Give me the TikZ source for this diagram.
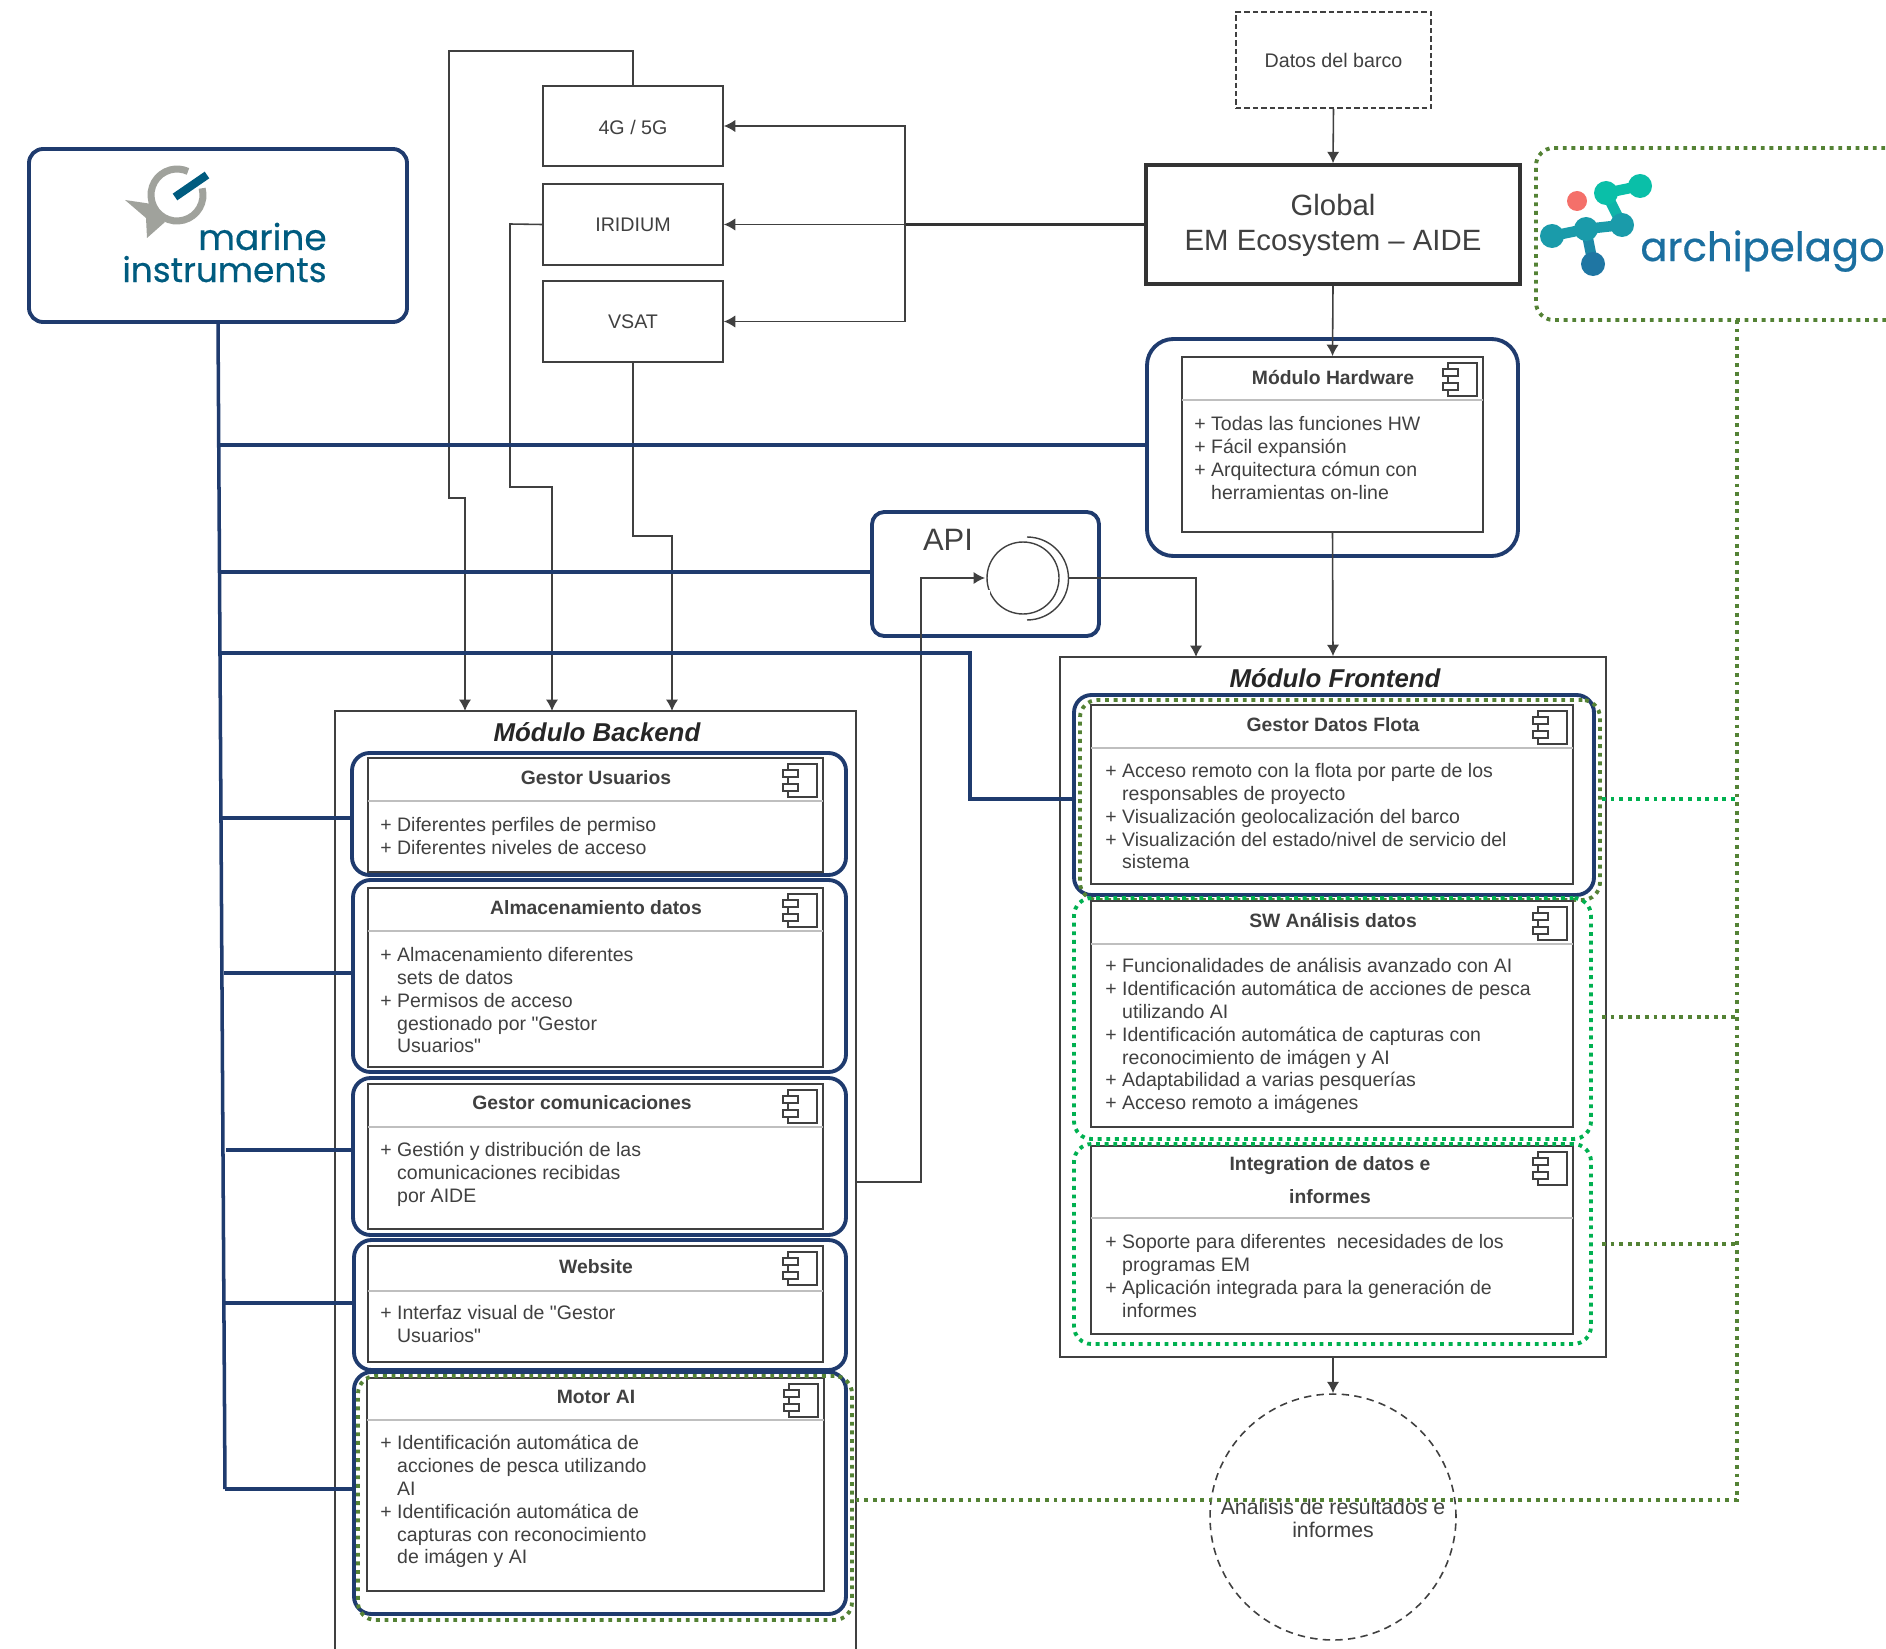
\documentclass[tikz,border=0pt]{standalone}
\usepackage{fontspec}
\setmainfont[Ligatures=TeXOff]{Liberation Sans}
\newfontfamily\logofont[FakeBold=0.5]{Poppins}
\usetikzlibrary{arrows.meta}
\usetikzlibrary{fit}
\definecolor{navy}{HTML}{1F3B6E}
\definecolor{inkgray}{HTML}{404040}
\definecolor{leaf}{HTML}{548235}
\definecolor{mint}{HTML}{00B050}
\definecolor{marineteal}{HTML}{005B7F}
\definecolor{marinegray}{HTML}{A0A29C}
\definecolor{archblue}{HTML}{1B6FA0}
\definecolor{archtop}{HTML}{0ABFA8}
\definecolor{archmid}{HTML}{1A9BAA}
\definecolor{archlow}{HTML}{1F76A3}
\definecolor{archred}{HTML}{F4706A}
\tikzset{
    plainbox/.style={draw=inkgray, line width=0.95pt, inner sep=0pt},
    navybox/.style={draw=navy, line width=2.2pt, rounded corners=10pt, inner sep=0pt},
    leafbox/.style={draw=leaf, line width=2.2pt, rounded corners=10pt, inner sep=0pt, dash pattern=on 2.2pt off 2.7pt},
    mintbox/.style={draw=mint, line width=2.2pt, rounded corners=10pt, inner sep=0pt, dash pattern=on 2.2pt off 2.7pt},
    link/.style={draw=black!75, line width=0.9pt, -{Latex[length=6.5pt,width=7pt]}},
    navyline/.style={draw=navy, line width=2pt},
    leafline/.style={draw=leaf, line width=2.2pt, dash pattern=on 2.2pt off 2.7pt},
    mintline/.style={draw=mint, line width=2.2pt, dash pattern=on 2.2pt off 2.7pt},
    small/.style={font=\fontsize{11.2}{13}\selectfont, text=inkgray},
    heading/.style={font=\fontsize{11}{13}\selectfont\bfseries, text=inkgray},
    bodytext/.style={font=\fontsize{11.1}{13}\selectfont, text=inkgray, align=left, anchor=north west, inner sep=0pt},
    moduletitle/.style={font=\fontsize{14.7}{17}\selectfont\bfseries\itshape, text=black!85}
}
% component box: name, x1, y1, x2, y2, y of header rule
\newcommand{\compbox}[6]{%
    \node[plainbox, fit={(#2,#3) (#4,#5)}] (#1) {};
    \draw[gray!50, line width=1.1pt] (#2,#6) -- (#4,#6);
    \draw[inkgray, line width=0.7pt] (#4-35,#3+6) rectangle (#4-6,#3+39);
    \filldraw[draw=inkgray, fill=white, line width=0.7pt] (#4-40,#3+12) rectangle (#4-25,#3+19);
    \filldraw[draw=inkgray, fill=white, line width=0.7pt] (#4-40,#3+26) rectangle (#4-25,#3+33);
}
\newcommand{\more}{\phantom{+ }}

\begin{document}
\begin{tikzpicture}[x=0.02cm,y=-0.02cm]
    \useasboundingbox (0,0) rectangle (1886,1649);
    \clip (0,0) rectangle (1886,1649);

    %upper boxes
    \node[draw=inkgray, dash pattern=on 3.1pt off 1.7pt, line width=0.9pt, inner sep=0pt, fit={(1236,12) (1431,108)}] (datos) {};
    \node[small] at (datos.center) {Datos del barco};
    \node[draw=black!80, line width=2pt, inner sep=0pt, fit={(1146,165) (1520,284)}] (global) {};
    \node[font=\fontsize{16.7}{19.5}\selectfont, text=inkgray, align=center] at (1333,225.5) {Global\\EM Ecosystem – AIDE};
    \node[plainbox, fit={(543,86) (723,166)}] (cuatrog) {};
    \node[small] at (633,127) {4G / 5G};
    \node[plainbox, fit={(543,184) (723,265)}] (iridium) {};
    \node[small] at (633,225) {IRIDIUM};
    \node[plainbox, fit={(543,281) (723,362)}] (vsat) {};
    \node[small] at (633,322) {VSAT};

    %modules
    \node[plainbox, fit={(335,711) (856,1700)}] (backend) {};
    \node[moduletitle] at (597,732) {Módulo Backend};
    \node[plainbox, fit={(1060,657) (1606,1357)}] (frontend) {};
    \node[moduletitle] at (1335,678) {Módulo Frontend};

    %hardware
    \compbox{hardware}{1182}{357}{1483}{532}{400}
    \node[heading] at (1333,378) {Módulo Hardware};
    \node[bodytext] at (1194,416) {+ Todas las funciones HW\\+ Fácil expansión\\+ Arquitectura cómun con\\\more herramientas on-line};
    \node[navybox, rounded corners=15pt, fit={(1147,339) (1518,556)}] (hardwarenavy) {};

    %backend components
    \compbox{usuarios}{368}{758}{823}{872}{801}
    \node[heading] at (596,778) {Gestor Usuarios};
    \node[bodytext] at (380,817) {+ Diferentes perfiles de permiso\\+ Diferentes niveles de acceso};
    \node[navybox, fit={(352,753) (846,875)}] (usuariosnavy) {};

    \compbox{almacen}{368}{888}{823}{1067}{931}
    \node[heading] at (596,908) {Almacenamiento datos};
    \node[bodytext] at (380,947) {+ Almacenamiento diferentes\\\more sets de datos\\+ Permisos de acceso\\\more gestionado por "Gestor\\\more Usuarios"};
    \node[navybox, fit={(353,880) (846,1072)}] (almacennavy) {};

    \compbox{comunic}{368}{1084}{823}{1229}{1127}
    \node[heading] at (582,1103) {Gestor comunicaciones};
    \node[bodytext] at (380,1142) {+ Gestión y distribución de las\\\more comunicaciones recibidas\\\more por AIDE};
    \node[navybox, fit={(353,1078) (846,1235)}] (comunicnavy) {};

    \compbox{website}{368}{1246}{823}{1362}{1291}
    \node[heading] at (596,1267) {Website};
    \node[bodytext] at (380,1305) {+ Interfaz visual de "Gestor\\\more Usuarios"};
    \node[navybox, fit={(354,1240) (846,1370)}] (websitenavy) {};

    \compbox{motor}{367}{1378}{824}{1591}{1420}
    \node[heading] at (596,1397) {Motor AI};
    \node[bodytext] at (380,1435) {+ Identificación automática de\\\more acciones de pesca utilizando\\\more AI\\+ Identificación automática de\\\more capturas con reconocimiento\\\more de imágen y AI};
    \node[navybox, fit={(354,1372) (846,1614)}] (motornavy) {};
    \node[leafbox, fit={(358,1376) (852,1620)}] (motorleaf) {};

    %frontend components
    \compbox{flota}{1091}{705}{1573}{884}{748}
    \node[heading] at (1333,725) {Gestor Datos Flota};
    \node[bodytext] at (1105,763) {+ Acceso remoto con la flota por parte de los\\\more responsables de proyecto\\+ Visualización geolocalización del barco\\+ Visualización del estado/nivel de servicio del\\\more sistema};
    \node[navybox, fit={(1074,695) (1594,895)}] (flotanavy) {};
    \node[leafbox, fit={(1080,700) (1600,900)}] (flotaleaf) {};

    \compbox{analisis}{1091}{901}{1573}{1127}{944}
    \node[heading] at (1333,920) {SW Análisis datos};
    \node[bodytext] at (1105,958) {+ Funcionalidades de análisis avanzado con AI\\+ Identificación automática de acciones de pesca\\\more utilizando AI\\+ Identificación automática de capturas con\\\more reconocimiento de imágen y AI\\+ Adaptabilidad a varias pesquerías\\+ Acceso remoto a imágenes};
    \node[mintbox, fit={(1074,898) (1591,1139)}] (analisismint) {};

    \compbox{integra}{1091}{1146}{1573}{1334}{1218}
    \node[heading, align=center, font=\fontsize{11}{19}\selectfont\bfseries] at (1330,1180) {Integration de datos e\\informes};
    \node[bodytext] at (1105,1234) {+ Soporte para diferentes\ \ necesidades de los\\\more programas EM\\+ Aplicación integrada para la generación de\\\more informes};
    \node[mintbox, fit={(1074,1144) (1591,1344)}] (integramint) {};

    %results
    \node[draw=inkgray, dash pattern=on 4.2pt off 3pt, circle, line width=0.9pt, minimum size=4.92cm, inner sep=0pt] (resultados) at (1333,1517) {};
    \node[small, align=center, font=\fontsize{12.1}{13}\selectfont] at (1333,1518) {Análisis de resultados e\\informes};

    %api
    \node[navybox, rounded corners=7pt, fit={(872,512) (1099,636)}] (api) {};
    \node[font=\fontsize{17.6}{20}\selectfont, text=inkgray] at (948,540) {API};
    \node[draw=inkgray, circle, line width=0.8pt, minimum size=1.44cm, inner sep=0pt] (apicircle) at (1023,578) {};
    \fill[white] (983,552) rectangle (990,561);
    \fill[white] (983,590) rectangle (990,597);
    \draw[inkgray, line width=0.8pt] (1027,537) arc[start angle=90,end angle=-90,radius=0.83cm];
    \coordinate (apiout) at (1068,578);
    \coordinate (apiin) at (985,578);

    %thin links
    \draw[link] (datos.south) -- (global.north);
    \draw[link] (global.south) -- (hardware.north);
    \draw[link] (hardware.south) -- (frontend.north);
    \draw[link] (frontend.south) -- (resultados.north);
    \draw[link] (global.west |- iridium.east) -- (iridium.east);
    \draw[black!80, line width=1.5pt] (global.west |- iridium.east) -- (905,224.5);
    \draw[link] (905,224) |- (cuatrog.east);
    \draw[link] (905,224) |- (vsat.east);
    \draw[link] (cuatrog.north) -- (633,51) -- (449,51) -- (449,498) -- (465,498) -- (465,711);
    \draw[link] (iridium.west) -- (510,224) -- (510,487) -- (552,487) -- (552,711);
    \draw[link] (vsat.south) -- (633,536) -- (672,536) -- (672,711);
    \draw[link] (856,1182) -- (921,1182) -- (921,578) -- (apiin);
    \draw[link] (apiout) -- (1196,578) -- (1196,657);

    %marine lines
    \coordinate (trunkend) at (225,1489);
    \draw[navyline] (218,322) -- (trunkend);
    \draw[navyline] (219,445) -- (hardwarenavy.west |- 219,445);
    \draw[navyline] (220,572) -- (api.west |- 220,572);
    \draw[navyline] (221,653) -- (970,653) -- (970,799) -- (flotanavy.west |- 970,799);
    \draw[navyline] (219,818) -- (usuariosnavy.west |- 219,818);
    \draw[navyline] (224,973) -- (almacennavy.west |- 224,973);
    \draw[navyline] (226,1150) -- (comunicnavy.west |- 226,1150);
    \draw[navyline] (225,1303) -- (websitenavy.west |- 225,1303);
    \draw[navyline] (trunkend) -- (motornavy.west |- trunkend);

    %archipelago lines
    \node[leafbox, fit={(1536,148) (1920,320)}] (archbox) {};
    \draw[leafline] (1737,320) -- (1737,1500) -- (motorleaf.east |- 1737,1500);
    \draw[mintline] (flotaleaf.east |- 1600,799) -- (1737,799);
    \draw[leafline] (flotaleaf.east |- 1600,1017) -- (1737,1017);
    \draw[leafline] (flotaleaf.east |- 1600,1244) -- (1737,1244);

    %marine logo
    \node[navybox, rounded corners=8pt, fit={(29,149) (407,322)}] (marine) {};
    \draw[marinegray, line width=4pt] ([shift=(15:0.52cm)]177,195) arc[start angle=15,delta angle=-310,radius=0.52cm];
    \fill[marinegray] (125,200) -- (152,204) -- (165,222) -- (147,238) -- (146,218) -- cycle;
    \draw[marineteal, line width=4.6pt] (175,197) -- (207,175);
    \node[font=\logofont\fontsize{20.4}{24}\selectfont, text=marineteal, anchor=base east, inner sep=0pt] (marinetext) at (327,250) {marine};
    \node[font=\logofont\fontsize{19.5}{24}\selectfont, text=marineteal, anchor=base east, inner sep=0pt] (instruments) at (327,282) {instruments};

    %archipelago logo
    \fill[archred] (1577,201) circle (10);
    \draw[line width=6pt, line cap=round, color=archtop] (1640,186) -- (1606,193);
    \draw[line width=6pt, line cap=round, color=archtop!70!archmid] (1606,193) -- (1622,225);
    \draw[line width=6pt, line cap=round, color=archmid] (1622,225) -- (1586,229);
    \draw[line width=6pt, line cap=round, color=archmid] (1586,229) -- (1552,236);
    \draw[line width=6pt, line cap=round, color=archmid!50!archlow] (1586,229) -- (1593,264);
    \fill[color=archtop] (1640,186) circle (12);
    \fill[color=archtop] (1606,193) circle (12);
    \fill[color=archmid] (1622,225) circle (12);
    \fill[color=archmid] (1586,229) circle (12);
    \fill[color=archmid] (1552,236) circle (12);
    \fill[color=archlow] (1593,264) circle (12);
    \node[font=\logofont\fontsize{22.9}{26}\selectfont, text=archblue, anchor=base west, inner sep=0pt] (archtext) at (1640,261) {archipelago};
\end{tikzpicture}
\end{document}
